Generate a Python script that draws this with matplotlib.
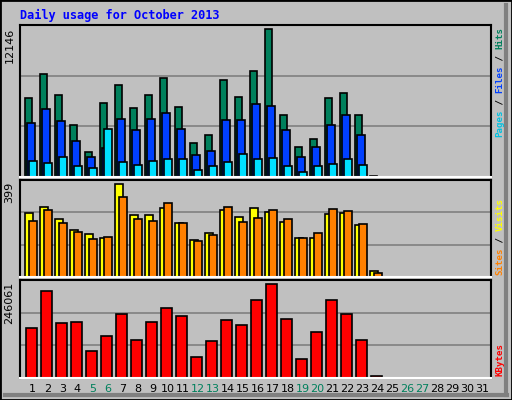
import matplotlib
matplotlib.use("Agg")
import matplotlib.pyplot as plt
import numpy as np

days = list(range(1, 32))
hits = [6458, 8436, 6705, 4314, 2088, 6046, 7530, 5634, 6705, 8107, 5716, 2830, 3490, 7942, 6540, 8684,
        12146, 5139, 2501, 3160, 6458, 6870, 5139, 50]
files = [4479, 5633, 4644, 2995, 1676, 2418, 4809, 3902, 4809, 5304, 3985, 1841, 2171, 4727, 4727, 5963,
         5798, 3902, 1676, 2501, 4314, 5139, 3490, 0]
pages = [1347, 1182, 1676, 934, 769, 3985, 1264, 1017, 1347, 1511, 1511, 605, 934, 1264, 1924, 1511,
         1594, 934, 440, 934, 1099, 1511, 1017, 0]
visits = [274, 300, 248, 200, 183, 166, 399, 265, 265, 295, 230, 157, 187, 287, 256, 295,
          278, 235, 166, 166, 269, 274, 222, 27]
sites = [239, 287, 230, 192, 161, 170, 343, 248, 239, 317, 230, 153, 179, 300, 235, 252,
         287, 248, 166, 187, 291, 282, 226, 19]
kbytes = [130210, 227194, 143680, 146374, 70942, 111352, 167926, 100576, 146374, 184090, 162538, 54778,
          97882, 151762, 138292, 205642, 246061, 154456, 49390, 119434, 205642, 167926, 100576, 6286]
weekend = [5, 6, 12, 13, 19, 20, 26, 27]

BG = "#C0C0C0"
W, H = 512, 400
fig = plt.figure(figsize=(5.12, 4.0), dpi=100, facecolor=BG)
fig.add_artist(plt.Rectangle((0, 0), 1, 1, transform=fig.transFigure, fill=False, ec="black", lw=2))
fig.add_artist(plt.Line2D([1 - 6/W, 1 - 6/W], [5/H, 1 - 5/H], transform=fig.transFigure, color="#808080", lw=3))
fig.add_artist(plt.Line2D([5/W, 1 - 5/W], [5/H, 5/H], transform=fig.transFigure, color="#808080", lw=3))

def ax_px(top, bottom):
    L, R = 20, 490.7
    return fig.add_axes([L/W, (H-bottom)/H, (R-L)/W, (bottom-top)/H])

def style(ax, ymax):
    ax.set_facecolor(BG)
    ax.set_xlim(0.5, 0.5 + 470.7/15)
    ax.set_ylim(0, ymax)
    for f in (1/3, 2/3):
        ax.axhline(ymax*f, color="#808080", lw=1.2, zorder=0)
    ax.set_xticks([]); ax.set_yticks([])
    for s in ax.spines.values():
        s.set_color("black"); s.set_linewidth(1.5)
    ax.spines["bottom"].set_color("white")

n = len(hits)
x = np.arange(1, n+1)

ax1 = ax_px(25, 177)
style(ax1, max(hits)*151.7/147.4)
kw = dict(width=0.5, align="edge", edgecolor="black", linewidth=1.2, zorder=2)
ax1.bar(x-0.17, hits, color="#00805C", **kw)
ax1.bar(x-0.03, files, color="#0040FF", **kw)
ax1.bar(x+0.12, pages, color="#00E0FF", **kw)

ax2 = ax_px(180, 277)
style(ax2, max(visits)*289/277)
kw2 = dict(width=0.52, align="edge", edgecolor="black", linewidth=1.2, zorder=2)
ax2.bar(x-0.17, visits, color="#FFFF00", **kw2)
ax2.bar(x+0.1, sites, color="#FF8000", **kw2)

ax3 = ax_px(280, 378)
style(ax3, max(kbytes)*286/274)
ax3.bar(x-0.1, kbytes, width=0.7, align="edge", color="#FF0000", edgecolor="black", linewidth=1.2, zorder=2)

for ax, v in ((ax1, max(hits)), (ax2, max(visits)), (ax3, max(kbytes))):
    ax.text(-0.012, 0.98, str(v), transform=ax.transAxes, rotation=90, ha="right", va="top",
            fontsize=8, family="DejaVu Sans", color="black")

for d in days:
    fig.text((20 + 15*(d-1) + 12.5)/W, 1 - 389/H, str(d), ha="center", va="center", fontsize=8,
             color="#00805C" if d in weekend else "black")

fig.text(20/W, 1 - 15/H, "Daily usage for October 2013", fontsize=8.6, family="DejaVu Sans Mono",
         weight="bold", color="#0000FF", ha="left", va="center")

def vlabel(parts, ybottom, fs=6.6):
    cw = 0.6*fs*100/72
    y = ybottom
    for s, c in parts:
        fig.text(500/W, 1 - y/H, s, rotation=90, rotation_mode="anchor", ha="left", va="center",
                 fontsize=fs, family="DejaVu Sans Mono", weight="bold", color=c)
        y -= len(s)*cw

vlabel([("Pages", "#00C0E0"), (" / ", "black"), ("Files", "#0040FF"), (" / ", "black"), ("Hits", "#00805C")], 137)
vlabel([("Sites", "#FF8000"), (" / ", "black"), ("Visits", "#FFFF00")], 275)
vlabel([("KBytes", "#FF0000")], 376)

fig.savefig("out.png", dpi=100, facecolor=BG)
